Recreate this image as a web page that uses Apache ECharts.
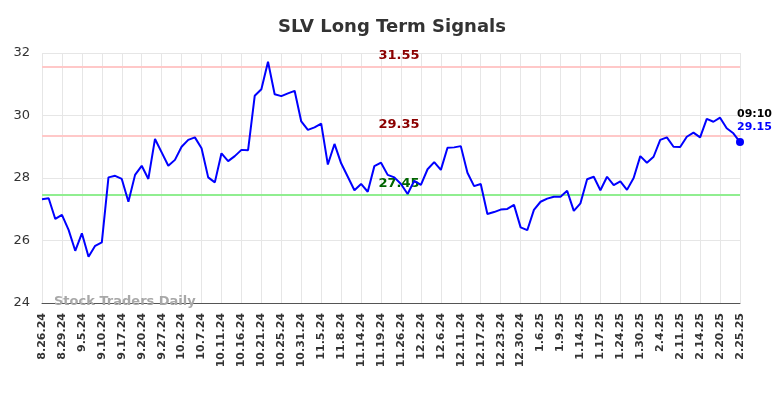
<!DOCTYPE html>
<html>
<head>
<meta charset="utf-8">
<script src="https://cdn.jsdelivr.net/npm/echarts@6/dist/echarts.min.js"></script>
<style>
  html, body { margin: 0; padding: 0; background: #fff; }
  #main { width: 784px; height: 398px; }
</style>
</head>
<body>
<div id="main"></div>
<script>
// dates (every third one is shown on the axis)
var dates = [
  '8.26.24','8.27.24','8.28.24','8.29.24','8.30.24','9.4.24','9.5.24','9.6.24','9.9.24','9.10.24',
  '9.11.24','9.13.24','9.17.24','9.18.24','9.19.24','9.20.24','9.23.24','9.25.24','9.27.24','9.30.24',
  '10.1.24','10.2.24','10.3.24','10.4.24','10.7.24','10.8.24','10.10.24','10.11.24','10.14.24','10.15.24',
  '10.16.24','10.17.24','10.18.24','10.21.24','10.22.24','10.24.24','10.25.24','10.28.24','10.30.24','10.31.24',
  '11.1.24','11.4.24','11.5.24','11.6.24','11.7.24','11.8.24','11.11.24','11.13.24','11.14.24','11.15.24',
  '11.18.24','11.19.24','11.20.24','11.22.24','11.26.24','11.27.24','11.29.24','12.2.24','12.3.24','12.5.24',
  '12.6.24','12.9.24','12.10.24','12.11.24','12.12.24','12.16.24','12.17.24','12.18.24','12.20.24','12.23.24',
  '12.24.24','12.27.24','12.30.24','12.31.24','1.3.25','1.6.25','1.7.25','1.8.25','1.9.25','1.10.25',
  '1.13.25','1.14.25','1.15.25','1.16.25','1.17.25','1.21.25','1.23.25','1.24.25','1.27.25','1.29.25',
  '1.30.25','1.31.25','2.3.25','2.4.25','2.6.25','2.10.25','2.11.25','2.12.25','2.13.25','2.14.25',
  '2.18.25','2.19.25','2.20.25','2.21.25','2.24.25','2.25.25'
];
// closing prices
var prices = [
  27.32,27.35,26.69,26.82,26.34,25.67,26.23,25.48,25.83,25.94,
  28.02,28.07,27.97,27.24,28.10,28.39,27.97,29.25,28.82,28.39,
  28.58,29.00,29.22,29.30,28.95,28.02,27.86,28.79,28.54,28.70,
  28.90,28.89,30.63,30.84,31.72,30.68,30.62,30.71,30.79,29.81,
  29.54,29.62,29.74,28.43,29.09,28.47,28.04,27.61,27.81,27.56,
  28.38,28.49,28.10,28.02,27.81,27.49,27.91,27.78,28.28,28.51,
  28.26,28.97,28.98,29.02,28.17,27.74,27.81,26.85,26.91,26.99,
  27.01,27.14,26.42,26.33,26.98,27.24,27.34,27.40,27.40,27.59,
  26.95,27.19,27.96,28.04,27.61,28.04,27.77,27.89,27.62,28.00,
  28.70,28.49,28.68,29.22,29.30,29.00,28.99,29.32,29.45,29.30,
  29.89,29.80,29.93,29.59,29.43,29.15
];
var resistHigh = 31.55;
var resistLow = 29.35;
var support = 27.45;
var lastTime = '09:10';
var yTicks = [24, 26, 28, 30, 32];

var lastIdx = prices.length - 1;
var myChart = echarts.init(document.getElementById('main'));
var option = {
    animation: false,
    title: {
        text: 'SLV Long Term Signals',
        left: 'center',
        top: 13,
        textStyle: { fontFamily: 'DejaVu Sans', fontSize: 18, fontWeight: 'bold', color: '#333' }
    },
    grid: { left: 42, right: 44, top: 53, bottom: 95 },
    xAxis: {
        type: 'category',
        data: dates,
        boundaryGap: false,
        axisLine: { lineStyle: { color: '#555', width: 1 } },
        axisTick: { show: false },
        axisLabel: {
            interval: 2,
            rotate: 90,
            fontFamily: 'DejaVu Sans',
            fontSize: 11,
            fontWeight: 'bold',
            color: '#333',
            margin: 10
        },
        splitLine: { show: true, interval: 2, lineStyle: { color: '#e6e6e6', width: 1 } }
    },
    yAxis: {
        type: 'value',
        min: yTicks[0],
        max: yTicks[yTicks.length - 1],
        interval: 2,
        axisLine: { show: false },
        axisTick: { show: false },
        axisLabel: { fontFamily: 'DejaVu Sans', fontSize: 13, color: '#333', margin: 12 },
        splitLine: { lineStyle: { color: '#e6e6e6', width: 1 } }
    },
    graphic: [{
        type: 'text',
        left: 54,
        top: 295,
        z: 100,
        style: { text: 'Stock Traders Daily', fill: '#a8a8a8', font: 'bold 13px "DejaVu Sans"' }
    }],
    series: [{
        type: 'line',
        data: prices,
        symbol: 'none',
        lineStyle: { color: '#0000ff', width: 2 },
        z: 5,
        markLine: {
            silent: true,
            symbol: 'none',
            z: 1,
            data: [
                { yAxis: resistHigh, lineStyle: { color: '#ffc8c8', width: 2, type: 'solid' },
                  label: { color: '#8b0000' } },
                { yAxis: resistLow, lineStyle: { color: '#ffc8c8', width: 2, type: 'solid' },
                  label: { color: '#8b0000' } },
                { yAxis: support, lineStyle: { color: '#90ee90', width: 2, type: 'solid' },
                  label: { color: '#006400' } }
            ],
            label: {
                position: 'insideMiddleTop',
                formatter: function (p) { return p.value.toFixed(2); },
                fontFamily: 'DejaVu Sans',
                fontSize: 13,
                fontWeight: 'bold',
                offset: [8, 0]
            }
        }
    }, {
        type: 'scatter',
        data: [[lastIdx, prices[lastIdx]]],
        symbolSize: 8,
        itemStyle: { color: '#0000ff', opacity: 1 },
        z: 6,
        label: {
            show: true,
            position: [1, -30],
            formatter: '{t|' + lastTime + '}\n{v|' + prices[lastIdx].toFixed(2) + '}',
            rich: {
                t: { fontFamily: 'DejaVu Sans', fontSize: 11, fontWeight: 'bold', color: '#000', lineHeight: 13 },
                v: { fontFamily: 'DejaVu Sans', fontSize: 11, fontWeight: 'bold', color: '#0000ff', lineHeight: 13 }
            }
        }
    }]
};
myChart.setOption(option);
</script>
</body>
</html>
